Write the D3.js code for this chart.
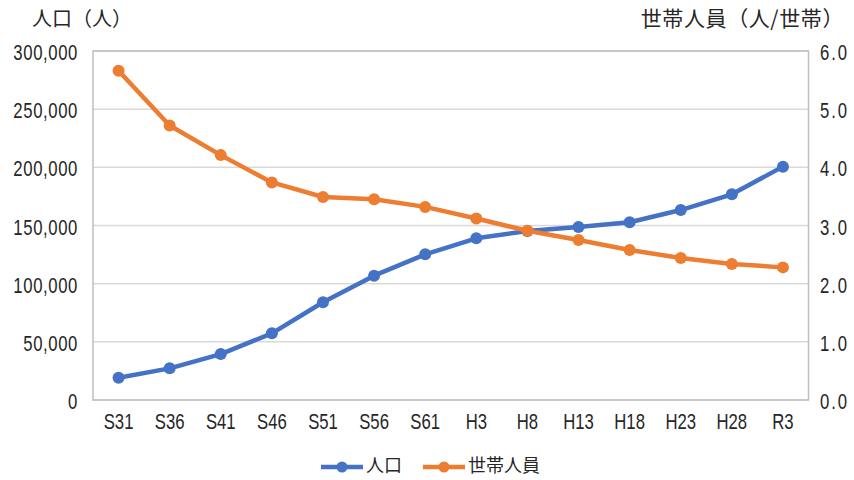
<!DOCTYPE html>
<html lang="ja">
<head>
<meta charset="utf-8">
<script src="https://cdn.jsdelivr.net/npm/d3@7"></script>
<style>
  html, body { margin: 0; padding: 0; background: #ffffff; }
  svg { display: block; }
  .num { font-family: "Liberation Sans", Arial, sans-serif; fill: #262626; }
  .jp { font-family: "Noto Sans CJK JP", "Noto Sans", sans-serif; fill: #262626; }
</style>
</head>
<body>
<svg id="chart" width="854" height="480"></svg>
<script>
// Census years (Showa / Heisei / Reiwa)
const years = ["S31", "S36", "S41", "S46", "S51", "S56", "S61", "H3", "H8", "H13", "H18", "H23", "H28", "R3"];
// Population (persons)
const population = [19200, 27200, 39500, 57300, 84000, 106900, 125200, 139000, 145300, 148700, 152800, 163300, 176800, 200600];
// Persons per household
const perHousehold = [5.66, 4.72, 4.21, 3.74, 3.49, 3.45, 3.32, 3.12, 2.91, 2.75, 2.58, 2.44, 2.34, 2.28];
// Axis ticks
const leftTicks = [0, 50000, 100000, 150000, 200000, 250000, 300000];
const rightTicks = [0, 1, 2, 3, 4, 5, 6];

const seriesNames = ["人口", "世帯人員"];
const colors = ["#4472C4", "#ED7D31"];

const svg = d3.select("#chart");
const plot = { left: 93, right: 808.5, top: 51, bottom: 400 };
const narrow = 0.76; // horizontal squeeze for the condensed numeral style

const x = d3.scalePoint().domain(years).range([plot.left, plot.right]).padding(0.5);
const yL = d3.scaleLinear().domain([0, 300000]).range([plot.bottom, plot.top]);
const yR = d3.scaleLinear().domain([0, 6]).range([plot.bottom, plot.top]);

// Horizontal gridlines
svg.append("g")
  .selectAll("line")
  .data(leftTicks)
  .join("line")
  .attr("x1", plot.left).attr("x2", plot.right)
  .attr("y1", d => yL(d)).attr("y2", d => yL(d))
  .attr("stroke", "#d9d9d9").attr("stroke-width", 1.5);

// Plot frame
svg.append("rect")
  .attr("x", plot.left).attr("y", plot.top)
  .attr("width", plot.right - plot.left).attr("height", plot.bottom - plot.top)
  .attr("fill", "none").attr("stroke", "#bfbfbf").attr("stroke-width", 1.5);

// Condensed label helper
function label(g, data, px, py, anchor, fmt, spacing) {
  g.selectAll("text")
    .data(data)
    .join("text")
    .attr("class", "num")
    .attr("transform", d => `translate(${px(d)},${py(d)}) scale(${narrow},1)`)
    .attr("text-anchor", anchor)
    .attr("font-size", 22)
    .attr("letter-spacing", spacing || 0)
    .text(fmt);
}

// Left axis labels
const fmtL = d3.format(",");
label(svg.append("g"), leftTicks, () => 78, d => yL(d) + 9, "end", d => fmtL(d), 0.8);

// Right axis labels
const fmtR = d3.format(".1f");
label(svg.append("g"), rightTicks, () => 820, d => yR(d) + 9, "start", d => fmtR(d), 2.5);

// Category labels
label(svg.append("g"), years, d => x(d), () => 429, "middle", d => d);

// Axis titles
svg.append("text").attr("class", "jp")
  .attr("x", 32).attr("y", 26).attr("font-size", 20)
  .text("人口（人）");
svg.append("text").attr("class", "jp")
  .attr("x", 844).attr("y", 26).attr("font-size", 21)
  .attr("text-anchor", "end").attr("letter-spacing", 0.6)
  .text("世帯人員（人/世帯）");

// Series
function drawSeries(values, yScale, color) {
  const pts = years.map((yr, i) => [x(yr), yScale(values[i])]);
  const g = svg.append("g");
  g.append("path")
    .attr("d", d3.line()(pts))
    .attr("fill", "none").attr("stroke", color)
    .attr("stroke-width", 4.5).attr("stroke-linejoin", "round").attr("stroke-linecap", "round");
  g.selectAll("circle")
    .data(pts)
    .join("circle")
    .attr("cx", d => d[0]).attr("cy", d => d[1]).attr("r", 6)
    .attr("fill", color);
}
drawSeries(population, yL, colors[0]);
drawSeries(perHousehold, yR, colors[1]);

// Legend
const legendItems = [
  { name: seriesNames[0], color: colors[0], x0: 321 },
  { name: seriesNames[1], color: colors[1], x0: 423 }
];
const lg = svg.append("g");
legendItems.forEach(it => {
  lg.append("line")
    .attr("x1", it.x0).attr("x2", it.x0 + 42)
    .attr("y1", 467).attr("y2", 467)
    .attr("stroke", it.color).attr("stroke-width", 4.5);
  lg.append("circle")
    .attr("cx", it.x0 + 21).attr("cy", 467).attr("r", 5.5)
    .attr("fill", it.color);
  lg.append("text").attr("class", "jp")
    .attr("x", it.x0 + 45).attr("y", 467)
    .attr("dominant-baseline", "middle")
    .attr("font-size", 18)
    .text(it.name);
});
</script>
</body>
</html>
